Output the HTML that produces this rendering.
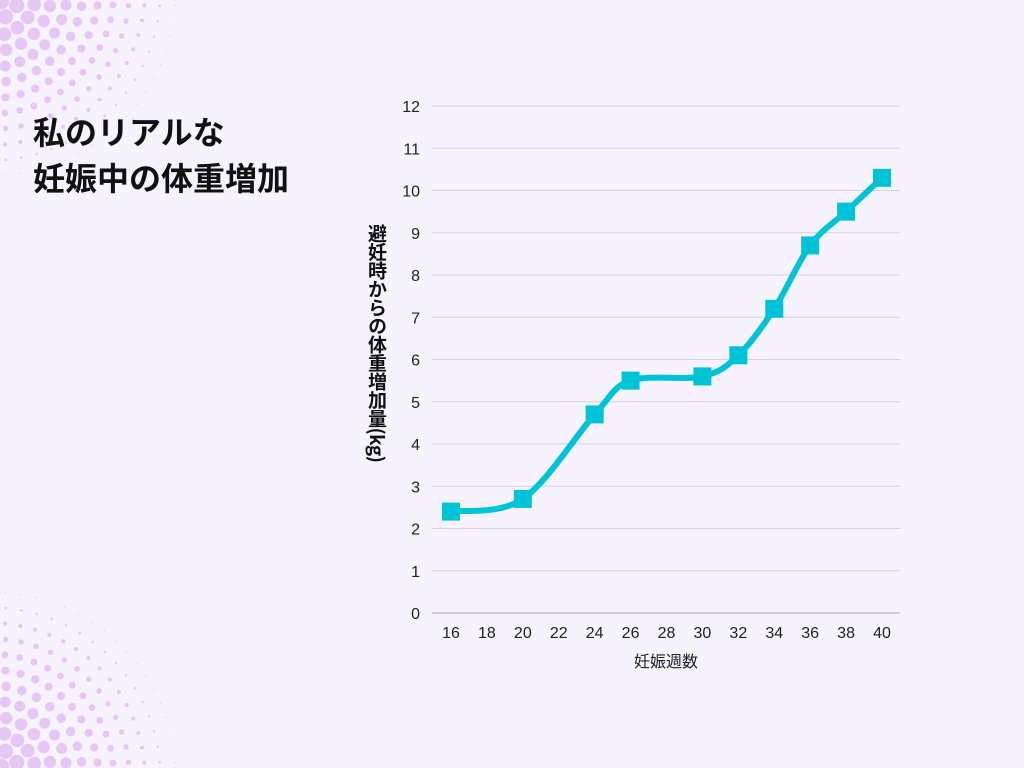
<!DOCTYPE html>
<html><head><meta charset="utf-8"><style>
body{margin:0;background:#f6f2fe;}
#c{position:relative;width:1024px;height:768px;overflow:hidden;background:#f6f2fe;font-family:"Liberation Sans","Noto Sans CJK JP",sans-serif;}
.t{position:absolute;left:33px;font-size:32px;font-weight:bold;color:#111;line-height:46px;font-family:"Noto Sans CJK JP",sans-serif;}
#yt{position:absolute;left:364px;top:224px;writing-mode:vertical-rl;font-size:19px;font-weight:bold;color:#111;font-family:"Noto Sans CJK JP",sans-serif;line-height:26px;letter-spacing:-0.5px;}
</style></head><body>
<div id="c">
<svg id="deco" width="1024" height="768" style="position:absolute;left:0;top:0"></svg>
<div class="t" style="top:108px">私のリアルな<br>妊娠中の体重増加</div>
<svg id="ch" width="1024" height="768" style="position:absolute;left:0;top:0"></svg>
<div id="yt">避妊時からの体重増加量(kg)</div>
</div>
<script>
const weeks=[16,20,24,26,30,32,34,36,38,40];
const gain=[2.4,2.7,4.7,5.5,5.6,6.1,7.2,8.7,9.5,10.3];
const xTicks=[16,18,20,22,24,26,28,30,32,34,36,38,40];
const yTicks=[0,1,2,3,4,5,6,7,8,9,10,11,12];
const NS="http://www.w3.org/2000/svg";
function mk(p,t,a){const e=document.createElementNS(NS,t);for(const k in a)e.setAttribute(k,a[k]);p.appendChild(e);return e;}
const d=document.getElementById('deco');
function corner(top){
 for(let ring=0;ring<14;ring++){const rad=ring*15.5;const n=Math.max(1,Math.round(rad*Math.PI/2/15.5));
  for(let k=0;k<=n;k++){const a=k/n*Math.PI/2;const x=rad*Math.cos(a),y=rad*Math.sin(a);
   const r=9*(1-rad/200);if(r<0.6)continue;
   const c=mk(d,'circle',{cx:x-10,cy:top?y-10:778-y,r:r,fill:'#e6c6f3'});
   }}}
corner(true);corner(false);
const s=document.getElementById('ch');
const X=v=>451+(v-16)*(882-451)/24, Y=v=>613-v*(613-106)/12;
yTicks.forEach(v=>{
 const l=mk(s,'line',{x1:432,x2:900,y1:Y(v),y2:Y(v),stroke:v===0?'#aaa':'#d4d0dc','stroke-width':1});
 
 const t=mk(s,'text',{x:420,y:Y(v)+6,'text-anchor':'end','font-size':16,fill:'#222'});t.textContent=v;
 
});
xTicks.forEach(v=>{const t=mk(s,'text',{x:X(v),y:638,'text-anchor':'middle','font-size':16,fill:'#222'});t.textContent=v;
 });
const xt=mk(s,'text',{x:666,y:667,'text-anchor':'middle','font-size':16,fill:'#222'});xt.textContent='妊娠週数';

const pts=weeks.map((w,i)=>[X(w),Y(gain[i])]);
let p='M'+pts[0][0]+','+pts[0][1];
for(let i=0;i<pts.length-1;i++){const p0=pts[i-1]||pts[i],p1=pts[i],p2=pts[i+1],p3=pts[i+2]||p2;
 p+=` C${p1[0]+(p2[0]-p0[0])/6},${p1[1]+(p2[1]-p0[1])/6} ${p2[0]-(p3[0]-p1[0])/6},${p2[1]-(p3[1]-p1[1])/6} ${p2[0]},${p2[1]}`;}
const ln=mk(s,'path',{d:p,fill:'none',stroke:'#00c3d8','stroke-width':6,'stroke-linejoin':'round'});

pts.forEach(q=>{const r=mk(s,'rect',{x:q[0]-9,y:q[1]-9,width:18,height:18,fill:'#00c3d8'});
 });
</script>
</body></html>
